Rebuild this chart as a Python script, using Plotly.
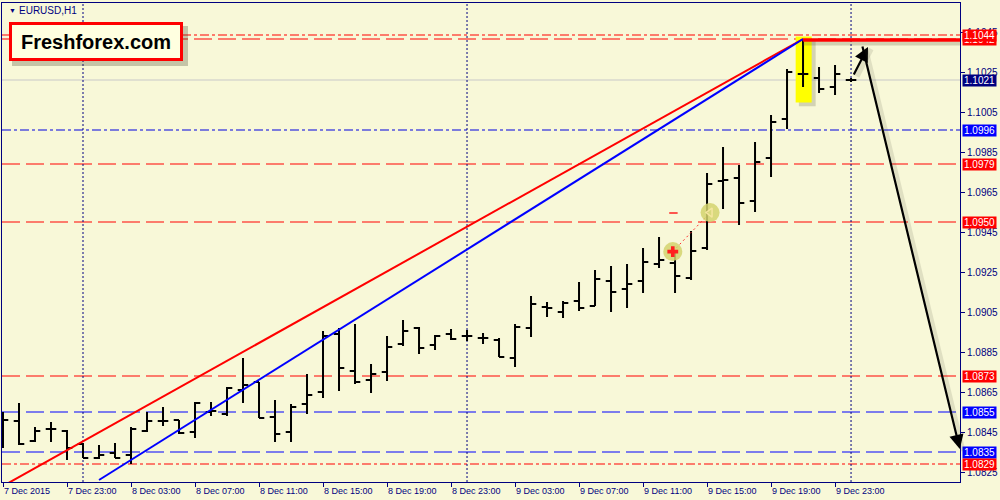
import plotly.graph_objects as go

# ---------------- data ----------------
bar_index = list(range(54))
bar_open = [1.0846, 1.08505, 1.08405, 1.08465, 1.08455, 1.0839, 1.0832, 1.08345, 1.08335, 1.08455,
            1.08505, 1.0851, 1.0845, 1.0855, 1.0854, 1.0866, 1.0870, 1.08525, 1.0845, 1.0859,
            1.0865, 1.0894, 1.08755, 1.0871, 1.0875, 1.0889, 1.0897, 1.08885, 1.0894, 1.0893,
            1.0892, 1.0891, 1.0882, 1.0897, 1.09075, 1.0905, 1.09105, 1.0908, 1.09205, 1.09165,
            1.09205, 1.0929, 1.09295, 1.0922, 1.0937, 1.09705, 1.0972, 1.09605, 1.0982, 1.10015,
            1.1024, 1.1022, 1.10175, 1.1021]
bar_high = [1.0855, 1.08595, 1.08475, 1.0850, 1.0846, 1.08395, 1.08385, 1.08395, 1.08475, 1.0855,
            1.08575, 1.0851, 1.0860, 1.0860, 1.08675, 1.0882, 1.0870, 1.0861, 1.0859, 1.0874,
            1.08955, 1.0897, 1.0899, 1.0879, 1.0893, 1.0901, 1.08975, 1.08935, 1.08965, 1.0896,
            1.08945, 1.0892, 1.0899, 1.0913, 1.0910, 1.09105, 1.0920, 1.0926, 1.0928, 1.0929,
            1.0937, 1.09425, 1.0936, 1.09455, 1.09745, 1.09875, 1.09785, 1.0990, 1.10035, 1.10265,
            1.10415, 1.10275, 1.10285, 1.1022]
bar_low = [1.0837, 1.08385, 1.0840, 1.0840, 1.0831, 1.0832, 1.08315, 1.0832, 1.0829, 1.0845,
           1.0848, 1.0844, 1.0842, 1.0853, 1.0853, 1.08595, 1.0852, 1.0840, 1.0840, 1.0854,
           1.0862, 1.08655, 1.0869, 1.08645, 1.08705, 1.0888, 1.0884, 1.0886, 1.0891, 1.08905,
           1.0889, 1.08825, 1.08775, 1.08925, 1.09025, 1.0902, 1.09055, 1.0908, 1.0905, 1.0907,
           1.09145, 1.0927, 1.09145, 1.0921, 1.0936, 1.09565, 1.09485, 1.0955, 1.09725, 1.09965,
           1.10175, 1.10145, 1.10135, 1.1020]
bar_close = [1.0851, 1.0839, 1.08455, 1.08465, 1.0837, 1.0832, 1.08335, 1.0832, 1.08465, 1.08505,
             1.08505, 1.08445, 1.08595, 1.08555, 1.0867, 1.08685, 1.0852, 1.0844, 1.08575, 1.08635,
             1.0893, 1.0877, 1.0870, 1.0874, 1.08875, 1.08955, 1.0887, 1.0893, 1.08915, 1.0893,
             1.0892, 1.08825, 1.08975, 1.0909, 1.0907, 1.09095, 1.0907, 1.09215, 1.0915, 1.0919,
             1.0930, 1.0931, 1.0923, 1.09355, 1.0969, 1.0971, 1.09595, 1.0980, 1.1000, 1.1025,
             1.1024, 1.10165, 1.1024, 1.1021]

time_tick_index = [0, 4, 8, 12, 16, 20, 24, 28, 32, 36, 40, 44, 48, 52]
time_tick_text = ["7 Dec 2015", "7 Dec 23:00", "8 Dec 03:00", "8 Dec 07:00", "8 Dec 11:00",
                  "8 Dec 15:00", "8 Dec 19:00", "8 Dec 23:00", "9 Dec 03:00", "9 Dec 07:00",
                  "9 Dec 11:00", "9 Dec 15:00", "9 Dec 19:00", "9 Dec 23:00"]
day_separator_index = [5, 29, 53]

price_ticks = [1.0825, 1.0845, 1.0865, 1.0885, 1.0905, 1.0925, 1.0945, 1.0965, 1.0985,
               1.1005, 1.1025, 1.1045]

# horizontal levels: (price, colour, dash)
level_prices = [1.10435, 1.10415, 1.1021, 1.0996, 1.0979, 1.0950, 1.0873, 1.0855, 1.0835, 1.0829]
level_colors = ["#ff0000", "#ff0000", "#c8c8c8", "#0000e0", "#ff0000", "#ff0000", "#ff0000",
                "#0000ff", "#0000ff", "#ff0000"]
level_dashes = ["9px,3px,3px,3px", "18px,6px", "solid", "9px,3px,3px,3px", "18px,6px",
                "18px,6px", "18px,6px", "18px,6px", "18px,6px", "9px,3px,3px,3px"]

# price label boxes on the axis
label_prices = [1.10415, 1.10435, 1.1021, 1.0996, 1.0979, 1.0950, 1.0873, 1.0855, 1.0835, 1.0829]
label_texts = ["1.1042", "1.1044", "1.1021", "1.0996", "1.0979", "1.0950", "1.0873", "1.0855",
               "1.0835", "1.0829"]
label_colors = ["#ff0000", "#ff0000", "#000080", "#0000ff", "#ff0000", "#ff0000", "#ff0000",
                "#0000ff", "#0000ff", "#ff0000"]

# trend lines
red_trend_x = [0, 50]
red_trend_y = [1.0818, 1.10415]
blue_trend_x = [6, 50]
blue_trend_y = [1.0821, 1.10415]
top_line_x = [50, 61]
top_line_y = [1.1041, 1.1041]

# highlight rectangle around bar 50
highlight_x = [49.54, 50.54]
highlight_y = [1.10097, 1.10427]

# trade markers
trade_x = [41.86, 44.19]
trade_y = [1.09352, 1.09547]
trade_dash_x = [41.9]
trade_dash_y = [1.09545]

# arrows (tail -> head)
short_arrow = dict(tail=(53.125, 1.1023), head=(54.06, 1.10375))
long_arrow = dict(tail=(53.69, 1.10385), head=(59.8, 1.08365))

NAVY = "#000080"
BG = "#f8f8d8"
FONT = "Liberation Sans"

fig = go.Figure()

fig.add_trace(go.Ohlc(
    x=bar_index, open=bar_open, high=bar_high, low=bar_low, close=bar_close,
    increasing=dict(line=dict(color="black", width=2)),
    decreasing=dict(line=dict(color="black", width=2)),
    tickwidth=0.33, hoverinfo="skip", showlegend=False))

fig.add_trace(go.Scatter(x=red_trend_x, y=red_trend_y, mode="lines",
                         line=dict(color="#ff0000", width=2), showlegend=False, hoverinfo="skip"))
fig.add_trace(go.Scatter(x=blue_trend_x, y=blue_trend_y, mode="lines",
                         line=dict(color="#0000ff", width=2), showlegend=False, hoverinfo="skip"))
# shadow of the thick top line
fig.add_trace(go.Scatter(x=top_line_x, y=[v - 0.00018 for v in top_line_y], mode="lines",
                         line=dict(color="rgba(90,90,60,0.25)", width=4), showlegend=False,
                         hoverinfo="skip"))
fig.add_trace(go.Scatter(x=top_line_x, y=top_line_y, mode="lines",
                         line=dict(color="#ff0000", width=3.5), showlegend=False, hoverinfo="skip"))

# trade markers
fig.add_trace(go.Scatter(x=trade_x, y=trade_y, mode="lines",
                         line=dict(color="#ff3030", width=1, dash="2px,3px"),
                         showlegend=False, hoverinfo="skip"))
fig.add_trace(go.Scatter(x=trade_x, y=trade_y, mode="markers",
                         marker=dict(size=19, color="rgba(212,212,110,0.85)"),
                         showlegend=False, hoverinfo="skip"))
fig.add_trace(go.Scatter(x=trade_x[:1], y=trade_y[:1], mode="markers",
                         marker=dict(size=9, symbol="cross", color="#ff2020", line=dict(width=0)),
                         showlegend=False, hoverinfo="skip"))
fig.add_trace(go.Scatter(x=trade_x[1:], y=trade_y[1:], mode="markers",
                         marker=dict(size=8, symbol="triangle-left-open", color="#f5e6a0",
                                     line=dict(width=1.5, color="#f5e6a0")),
                         showlegend=False, hoverinfo="skip"))
fig.add_trace(go.Scatter(x=trade_dash_x, y=trade_dash_y, mode="markers",
                         marker=dict(size=6, symbol="line-ew", line=dict(width=1.5, color="#ff2020")),
                         showlegend=False, hoverinfo="skip"))

shapes = []
for p, c, d in zip(level_prices, level_colors, level_dashes):
    shapes.append(dict(type="line", xref="paper", x0=0, x1=1, yref="y", y0=p, y1=p,
                       line=dict(color=c, width=1.2, dash=d), layer="below"))
for sx in day_separator_index:
    shapes.append(dict(type="line", xref="x", x0=sx, x1=sx, yref="paper", y0=0, y1=1,
                       line=dict(color=NAVY, width=1, dash="2px,2px"), layer="below"))
# highlight rectangle + shadow
shapes.append(dict(type="rect", xref="x", yref="y",
                   x0=highlight_x[0] + 0.2, x1=highlight_x[1] + 0.25,
                   y0=highlight_y[0] - 0.00018, y1=highlight_y[1] - 0.00018,
                   fillcolor="rgba(80,80,50,0.22)", line=dict(width=0), layer="below"))
shapes.append(dict(type="rect", xref="x", yref="y",
                   x0=highlight_x[0], x1=highlight_x[1], y0=highlight_y[0], y1=highlight_y[1],
                   fillcolor="#ffff00", line=dict(width=0), layer="below"))
# Freshforex box shadow (paper coords)
shapes.append(dict(type="rect", xref="paper", yref="paper",
                   x0=(12 - 2) / 958, x1=(188 - 2) / 958,
                   y0=(482 - 66) / 479, y1=(482 - 26) / 479,
                   fillcolor="rgba(60,60,40,0.28)", line=dict(width=0)))

annotations = []
for p, t, c in zip(label_prices, label_texts, label_colors):
    annotations.append(dict(xref="paper", x=1, yref="y", y=p, text=t, showarrow=False,
                            xanchor="left", yanchor="middle", xshift=2,
                            font=dict(family=FONT, size=10, color="white"),
                            bgcolor=c, borderpad=0, width=33, height=11))

for arr in (short_arrow, long_arrow):
    # soft shadow
    annotations.append(dict(xref="x", yref="y", axref="x", ayref="y",
                            x=arr["head"][0] + 0.2, y=arr["head"][1] - 0.0001,
                            ax=arr["tail"][0] + 0.2, ay=arr["tail"][1] - 0.0001,
                            text="", showarrow=True, arrowhead=0, arrowwidth=5,
                            arrowcolor="rgba(60,60,40,0.12)", standoff=0))
    annotations.append(dict(xref="x", yref="y", axref="x", ayref="y",
                            x=arr["head"][0], y=arr["head"][1],
                            ax=arr["tail"][0], ay=arr["tail"][1],
                            text="", showarrow=True, arrowhead=2, arrowsize=1.3,
                            arrowwidth=2.2, arrowcolor="black", standoff=0))

annotations.append(dict(xref="paper", yref="paper", x=(95.5 - 2) / 958, y=(482 - 41.5) / 479,
                        text="<b>Freshforex.com</b>", showarrow=False,
                        xanchor="center", yanchor="middle",
                        font=dict(family=FONT, size=20, color="black"),
                        bgcolor="#ffffe0", bordercolor="#ff0000", borderwidth=3,
                        borderpad=0, width=168, height=33))
annotations.append(dict(xref="paper", yref="paper", x=(7 - 2) / 958, y=(482 - 10.5) / 479,
                        text="▼", showarrow=False, xanchor="left", yanchor="middle",
                        font=dict(family=FONT, size=7, color=NAVY)))
annotations.append(dict(xref="paper", yref="paper", x=(17 - 2) / 958, y=(482 - 10.5) / 479,
                        text="EURUSD,H1", showarrow=False, xanchor="left", yanchor="middle",
                        font=dict(family=FONT, size=10, color=NAVY)))

fig.update_layout(
    width=1000, height=500,
    margin=dict(l=2, r=40, t=3, b=18),
    paper_bgcolor=BG, plot_bgcolor=BG,
    showlegend=False,
    shapes=shapes, annotations=annotations,
    xaxis=dict(range=[-0.0625, 59.81], rangeslider=dict(visible=False),
               tickmode="array", tickvals=time_tick_index, ticktext=time_tick_text,
               ticks="outside", ticklen=4, tickcolor=NAVY, ticklabelposition="outside right",
               tickfont=dict(family=FONT, size=9, color=NAVY),
               showgrid=False, zeroline=False, showline=True, linecolor=NAVY, linewidth=1,
               mirror=True, fixedrange=True),
    yaxis=dict(range=[1.0820, 1.10595], side="right", tickmode="array", tickvals=price_ticks,
               tickformat=".4f", ticks="outside", ticklen=4, tickcolor=NAVY,
               tickfont=dict(family=FONT, size=10, color=NAVY),
               showgrid=False, zeroline=False, showline=True, linecolor=NAVY, linewidth=1,
               mirror=True, fixedrange=True),
)

fig.write_html("out.html", config={"displayModeBar": False},
               post_script="document.body.style.margin='0';document.body.style.padding='0';"
                           "document.body.style.background='" + BG + "';")
